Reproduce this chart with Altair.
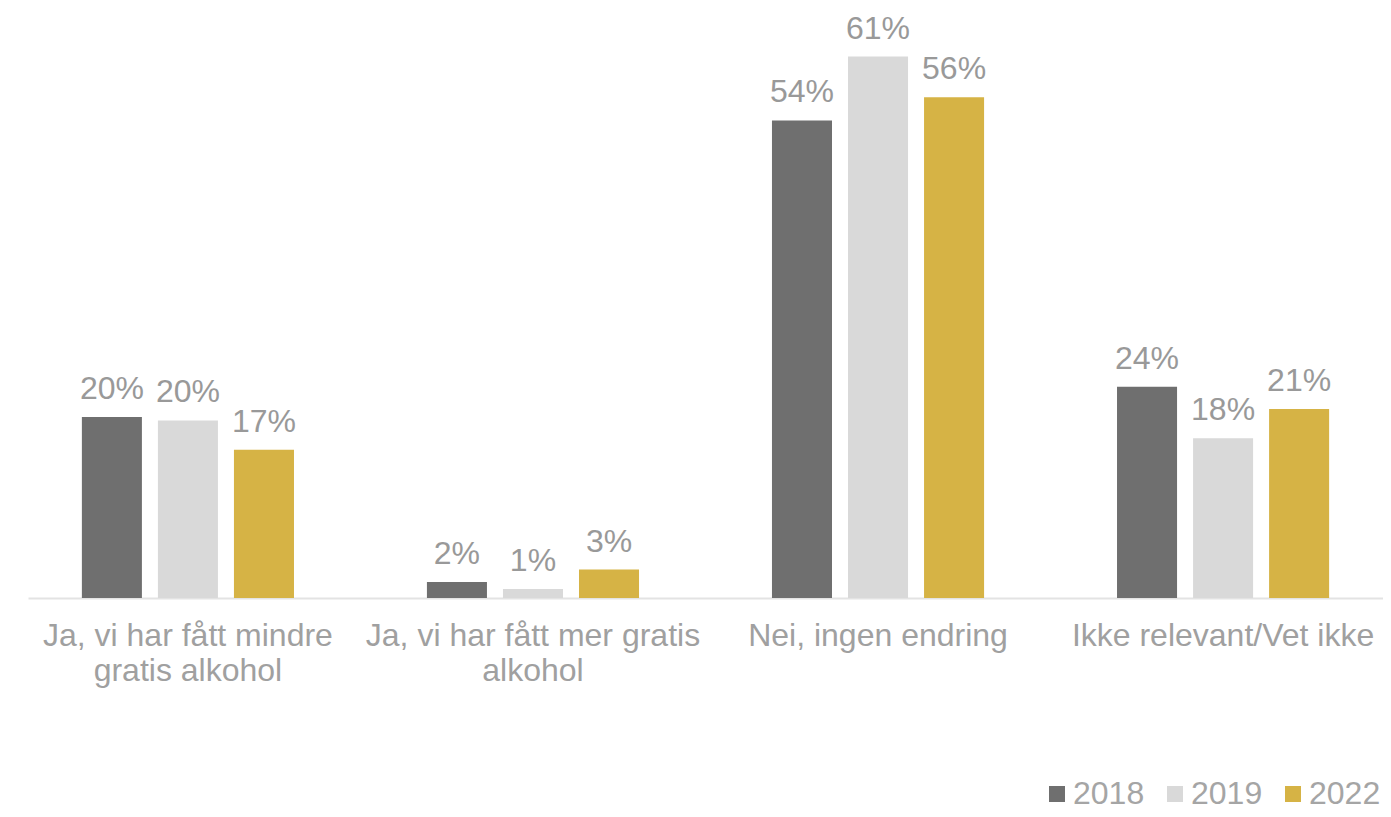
import altair as alt
import pandas as pd

categories = [
    "Ja, vi har fått mindre gratis alkohol",
    "Ja, vi har fått mer gratis alkohol",
    "Nei, ingen endring",
    "Ikke relevant/Vet ikke",
]
label_lines = {
    "Ja, vi har fått mindre gratis alkohol": ["Ja, vi har fått mindre", "gratis alkohol"],
    "Ja, vi har fått mer gratis alkohol": ["Ja, vi har fått mer gratis", "alkohol"],
    "Nei, ingen endring": ["Nei, ingen endring"],
    "Ikke relevant/Vet ikke": ["Ikke relevant/Vet ikke"],
}
years = ["2018", "2019", "2022"]
v2018 = [20.4, 1.8, 53.8, 23.8]
v2019 = [20.0, 1.0, 61.0, 18.0]
v2022 = [16.7, 3.2, 56.4, 21.3]
colors = ["#6f6f6f", "#d9d9d9", "#d6b345"]

rows = []
for yr, vals in zip(years, [v2018, v2019, v2022]):
    for c, v in zip(categories, vals):
        rows.append({"category": c, "year": yr, "value": v})
df = pd.DataFrame(rows)

expr_parts = []
for c, lines in label_lines.items():
    arr = "[" + ", ".join("'" + l + "'" for l in lines) + "]"
    expr_parts.append(f"datum.label == '{c}' ? {arr}")
label_expr = " : ".join(expr_parts) + " : datum.label"

FONT = "Liberation Sans"

x = alt.X("category:N", sort=categories, title=None,
          scale=alt.Scale(paddingInner=0.339, paddingOuter=0.133),
          axis=alt.Axis(labelAngle=0, labelExpr=label_expr, labelFontSize=32,
                        labelColor="#a0a0a0", labelFont=FONT, ticks=False,
                        domainColor="#e3e3e3", domainWidth=2, labelPadding=22,
                        labelLineHeight=35, labelLimit=420))
xo = alt.XOffset("year:N", sort=years,
                 scale=alt.Scale(paddingInner=0.2105, paddingOuter=0.105))
y = alt.Y("value:Q", scale=alt.Scale(domain=[0, 65]), axis=None)

base = alt.Chart(df)
bars = base.mark_bar().encode(
    x=x, xOffset=xo, y=y,
    color=alt.Color("year:N", sort=years,
                    scale=alt.Scale(domain=years, range=colors),
                    legend=alt.Legend(title=None, orient="none", direction="horizontal",
                                      legendX=1013, legendY=757, symbolType="square",
                                      symbolSize=256, symbolStrokeWidth=0,
                                      labelFontSize=32, labelColor="#a5a5a5", labelFont=FONT,
                                      columnPadding=14, labelOffset=0)),
)
texts = base.transform_calculate(
    lab="format(datum.value, '.0f') + '%'"
).mark_text(baseline="alphabetic", dy=-18, fontSize=32, font=FONT, color="#999999").encode(
    x=x, xOffset=xo, y=y, text="lab:N"
)

chart = (bars + texts).properties(
    width=1355, height=577,
    autosize=alt.AutoSizeParams(type="none"),
    padding={"left": 20, "top": 13, "right": 0, "bottom": 215},
).configure_view(stroke=None)

chart.save("out.html", embed_options={"renderer": "svg", "actions": False})
